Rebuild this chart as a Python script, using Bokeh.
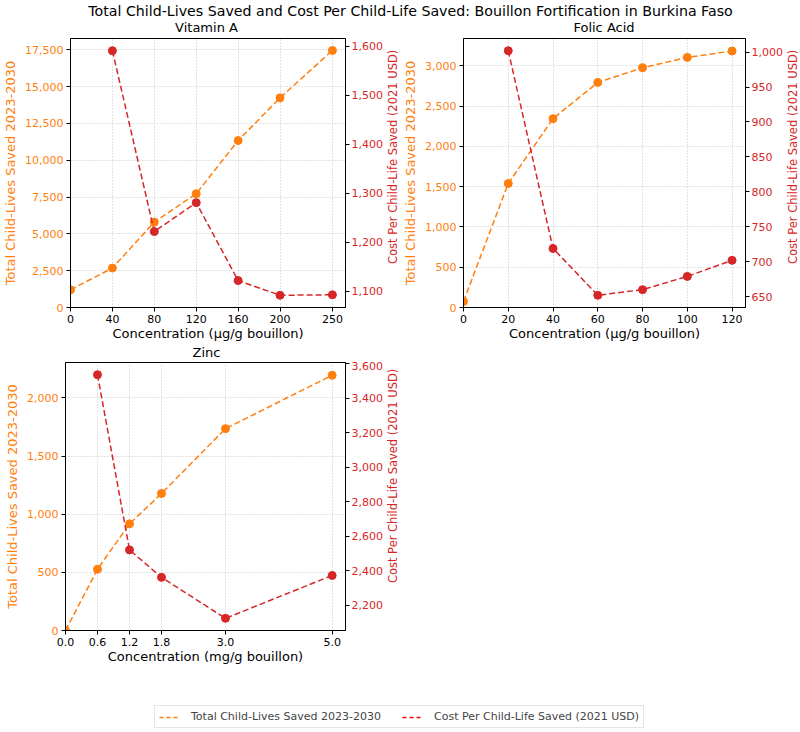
import math
from bokeh.plotting import figure
from bokeh.models import (Range1d, LinearAxis, FixedTicker, SingleIntervalTicker,
                          NumeralTickFormatter, PrintfTickFormatter, Legend, LegendItem,
                          Spacer, Label)
from bokeh.layouts import column, row
from bokeh.embed import file_html
from bokeh.resources import INLINE

FONT = "DejaVu Sans"
ORANGE = "#ff7f0e"
RED = "#d62728"

MAIN_TITLE = "Total Child-Lives Saved and Cost Per Child-Life Saved: Bouillon Fortification in Burkina Faso"
LIVES_LABEL = "Total Child-Lives Saved 2023-2030"
COST_LABEL = "Cost Per Child-Life Saved (2021 USD)"

# Vitamin A
vita_x = [0, 40, 80, 120, 160, 200, 250]
vita_lives = [1200, 2680, 5800, 7730, 11340, 14240, 17460]
vita_cost_x = [40, 80, 120, 160, 200, 250]
vita_cost = [1591, 1222, 1281, 1122, 1092, 1093]

# Folic acid
folic_x = [0, 20, 40, 60, 80, 100, 120]
folic_lives = [75, 1539, 2344, 2793, 2975, 3104, 3183]
folic_cost_x = [20, 40, 60, 80, 100, 120]
folic_cost = [1002, 719, 652, 660, 679, 702]

# Zinc
zinc_x = [0.0, 0.6, 1.2, 1.8, 3.0, 5.0]
zinc_lives = [0, 527, 917, 1178, 1736, 2195]
zinc_cost_x = [0.6, 1.2, 1.8, 3.0, 5.0]
zinc_cost = [3535, 2521, 2362, 2125, 2373]

# tick intervals (lives axis, cost axis)
vita_steps = (2500, 100)
folic_steps = (500, 50)
zinc_steps = (500, 200)

# layout (pixels)
HEAD_H = 37
ROW1_FRAME_H = 269
ROW1_BOTTOM = 38
GAP_H = 16
ROW2_FRAME_H = 268
ROW2_BOTTOM = 50
LEG_H = 52
STRIP_W = 15
PANEL_W = 385


def style_axis(ax, color, label_size, lab_standoff=3, axl_standoff=4):
    ax.axis_line_color = "black"
    ax.major_tick_line_color = "black"
    ax.major_tick_out = 4
    ax.major_tick_in = 0
    ax.minor_tick_line_color = None
    ax.major_label_text_font = FONT
    ax.major_label_text_font_size = "11px"
    ax.major_label_text_color = color
    ax.major_label_standoff = lab_standoff
    ax.axis_label_text_font = FONT
    ax.axis_label_text_font_size = label_size
    ax.axis_label_text_font_style = "normal"
    ax.axis_label_text_color = color
    ax.axis_label_standoff = axl_standoff


def blank(w, h, xr=(0, 1), yr=(0, 1)):
    f = figure(width=w, height=h, output_backend="svg", toolbar_location=None,
               x_range=Range1d(*xr), y_range=Range1d(*yr),
               x_axis_location=None, y_axis_location=None,
               min_border_left=0, min_border_right=0, min_border_top=0, min_border_bottom=0)
    f.outline_line_color = None
    f.grid.visible = False
    return f


def text(f, x, y, s, size, color="black", angle=0.0):
    f.add_layout(Label(x=x, y=y, text=s, angle=angle, text_align="center",
                       text_baseline="middle", text_font=FONT, text_font_size=size,
                       text_color=color))


def panel(xs, lives, cxs, costs, xlabel, steps, xfmt, fh, ml, mb):
    x_hi = max(xs) * 1.05
    l_hi = max(lives) + 0.05 * (max(lives) - min(lives))
    c_span = max(costs) - min(costs)
    h = 1 + fh + mb
    p = figure(width=PANEL_W, height=h, output_backend="svg", toolbar_location=None,
               x_range=Range1d(0, x_hi), y_range=Range1d(0, l_hi),
               min_border_left=ml, min_border_right=PANEL_W - ml - 282 - (1 if ml < 65 else 0),
               min_border_top=1, min_border_bottom=mb)
    p.extra_y_ranges = {"cost": Range1d(min(costs) - 0.05 * c_span, max(costs) + 0.05 * c_span)}

    p.outline_line_color = "black"
    p.outline_line_width = 1
    p.outline_line_alpha = 1

    xa = p.xaxis[0]
    xa.ticker = FixedTicker(ticks=xs)
    if xfmt:
        xa.formatter = PrintfTickFormatter(format=xfmt)
    xa.axis_label = xlabel
    style_axis(xa, "black", "13px", 3, 0)

    ya = p.yaxis[0]
    ya.ticker = SingleIntervalTicker(interval=steps[0])
    ya.formatter = NumeralTickFormatter(format="0,0")
    ya.axis_label = LIVES_LABEL
    style_axis(ya, ORANGE, "13px")

    ra = LinearAxis(y_range_name="cost", ticker=SingleIntervalTicker(interval=steps[1]),
                    formatter=NumeralTickFormatter(format="0,0"))
    style_axis(ra, RED, "11.5px", 2, 2)
    p.add_layout(ra, "right")

    for g in (p.xgrid[0], p.ygrid[0]):
        g.grid_line_color = "#b0b0b0"
        g.grid_line_dash = "1 2"
        g.grid_line_width = 0.8
        g.grid_line_alpha = 0.9

    p.line(xs, lives, line_color=ORANGE, line_width=1.5, line_dash="6 3")
    p.scatter(xs, lives, size=8, fill_color=ORANGE, line_color=ORANGE)
    p.line(cxs, costs, line_color=RED, line_width=1.5, line_dash="6 3", y_range_name="cost")
    p.scatter(cxs, costs, size=8, fill_color=RED, line_color=RED, y_range_name="cost")
    return p


def cost_strip(fh, mb):
    h = 1 + fh + mb
    s = blank(STRIP_W, h)
    text(s, 0.5, 1 - (1 + fh / 2) / h, COST_LABEL, "11.5px", RED, math.pi / 2)
    return s


p1 = panel(vita_x, vita_lives, vita_cost_x, vita_cost,
           "Concentration (µg/g bouillon)", vita_steps, None, ROW1_FRAME_H, 65, ROW1_BOTTOM)
p2 = panel(folic_x, folic_lives, folic_cost_x, folic_cost,
           "Concentration (µg/g bouillon)", folic_steps, None, ROW1_FRAME_H, 62, ROW1_BOTTOM)
p3 = panel(zinc_x, zinc_lives, zinc_cost_x, zinc_cost,
           "Concentration (mg/g bouillon)", zinc_steps, "%.1f", ROW2_FRAME_H, 65, ROW2_BOTTOM)

# header: main title and the two top subplot titles
head = blank(800, HEAD_H)
text(head, 410 / 800, 1 - 10 / HEAD_H, MAIN_TITLE, "14.2px")
text(head, (65 + 282 / 2) / 800, 1 - 27 / HEAD_H, "Vitamin A", "13px")
text(head, (400 + 62 + 283 / 2) / 800, 1 - 27 / HEAD_H, "Folic Acid", "13px")

# gap between the rows: Zinc subplot title
gap = blank(800, GAP_H)
text(gap, (65 + 282 / 2) / 800, 1 - 7 / GAP_H, "Zinc", "13px")

# legend strip (renderers kept out of view, only their legend samples show)
lf = blank(800, LEG_H, (-3, -2), (-3, -2))
r1 = lf.line(vita_x, vita_lives, line_color=ORANGE, line_width=1.5, line_dash="4 3")
r2 = lf.line(vita_cost_x, vita_cost, line_color="red", line_width=1.5, line_dash="4 3")
leg = Legend(items=[LegendItem(label=LIVES_LABEL, renderers=[r1]),
                    LegendItem(label=COST_LABEL, renderers=[r2])],
             orientation="horizontal", location=(154, 4))
leg.label_text_font = FONT
leg.label_text_font_size = "11px"
leg.label_height = 12
leg.glyph_width = 20
leg.glyph_height = 12
leg.label_standoff = 12
leg.spacing = 21
leg.padding = 4
leg.margin = 0
leg.border_line_color = "#cccccc"
leg.border_line_width = 1
leg.background_fill_alpha = 0.8
lf.add_layout(leg, "center")

row1 = row(p1, cost_strip(ROW1_FRAME_H, ROW1_BOTTOM), p2, cost_strip(ROW1_FRAME_H, ROW1_BOTTOM))
row2 = row(p3, cost_strip(ROW2_FRAME_H, ROW2_BOTTOM),
           Spacer(width=400, height=1 + ROW2_FRAME_H + ROW2_BOTTOM))
layout = column(head, row1, gap, row2, lf)

with open("out.html", "w") as f:
    f.write(file_html(layout, INLINE))
